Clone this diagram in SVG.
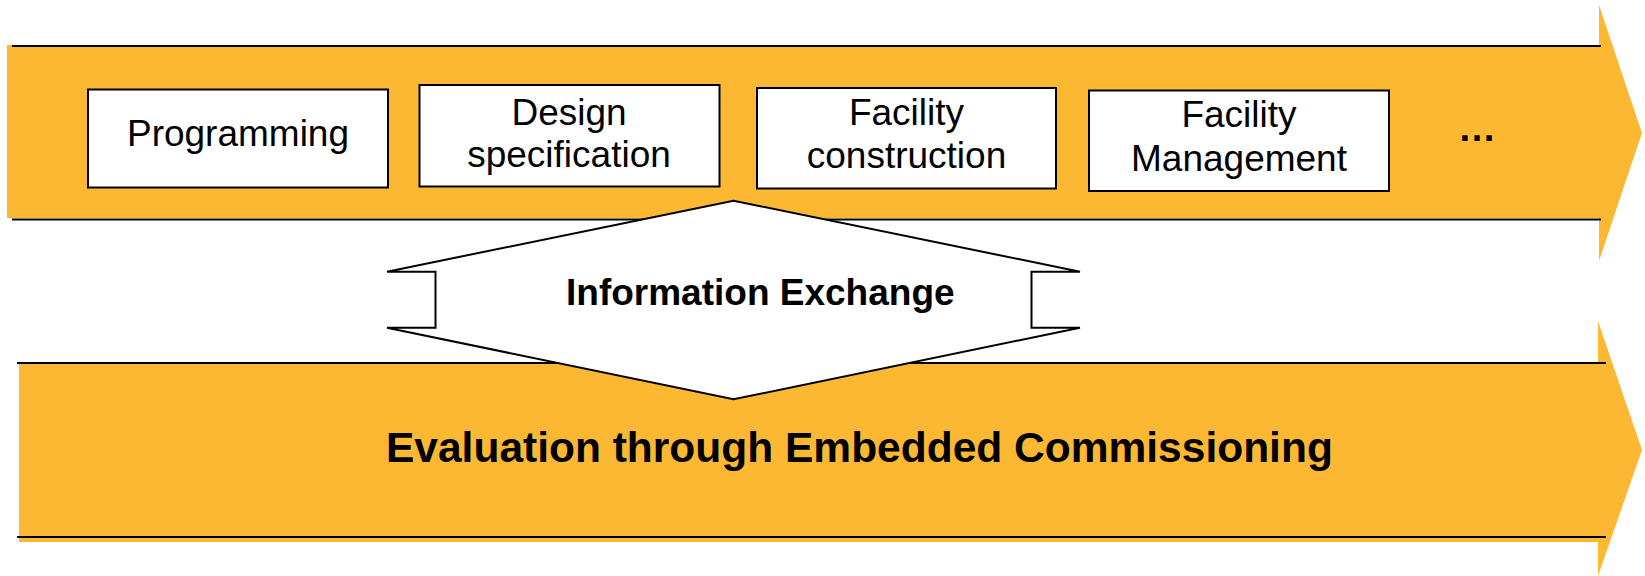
<svg xmlns="http://www.w3.org/2000/svg" width="1645" height="576" viewBox="0 0 1645 576">
<style>
.band{fill:#FDB833;stroke:none}
.rule{stroke:#000;stroke-width:2.2;fill:none}
.box{fill:#fff;stroke:#000;stroke-width:2}
.t{font-family:"Liberation Sans",Arial,sans-serif;font-size:37px;fill:#000;text-anchor:middle}
.b{font-family:"Liberation Sans",Arial,sans-serif;font-weight:bold;fill:#000}
</style>
<rect width="1645" height="576" fill="#fff"/>
<g id="phase-arrow">
<polygon class="band" points="7,45 1599,45 1599,5 1642,133 1599,261 1599,218 7,218"/>
<line class="rule" x1="12" y1="46" x2="1601" y2="46"/>
<line class="rule" x1="12" y1="219.5" x2="1601" y2="219.5"/>
</g>
<g id="evaluation-arrow">
<polygon class="band" points="19,362 1598,362 1598,321 1642,450 1598,576 1598,542 19,542"/>
<line class="rule" x1="17" y1="363" x2="1606" y2="363"/>
<line class="rule" x1="17" y1="537" x2="1606" y2="537"/>
<text class="b" x="386" y="462" font-size="42.5">Evaluation through Embedded Commissioning</text>
</g>
<g id="programming">
<rect class="box" x="88" y="89.5" width="300" height="98"/>
<text class="t" x="238" y="146">Programming</text>
</g>
<g id="design">
<rect class="box" x="419.5" y="85" width="300" height="101.5"/>
<text class="t" x="569" y="124.5">Design</text>
<text class="t" x="569" y="167">specification</text>
</g>
<g id="construction">
<rect class="box" x="757" y="88" width="299" height="100.5"/>
<text class="t" x="906.5" y="124.5">Facility</text>
<text class="t" x="906.5" y="167.5">construction</text>
</g>
<g id="management">
<rect class="box" x="1089" y="90.5" width="300" height="100.5"/>
<text class="t" x="1239" y="127">Facility</text>
<text class="t" x="1239" y="171">Management</text>
</g>
<g id="ellipsis">
<text class="b" x="1477" y="141" font-size="38" text-anchor="middle">…</text>
</g>
<g id="connectors">
<g id="information-exchange">
<polygon fill="#fff" stroke="#000" stroke-width="2" stroke-linejoin="miter" points="733.5,200.7 1080,271.7 1031.5,271.7 1031.5,327.7 1080,327.7 733.5,399.3 387,327.7 435.5,327.7 435.5,271.7 387,271.7"/>
<text class="b" x="566" y="305" font-size="37">Information Exchange</text>
</g>
</g>
</svg>
